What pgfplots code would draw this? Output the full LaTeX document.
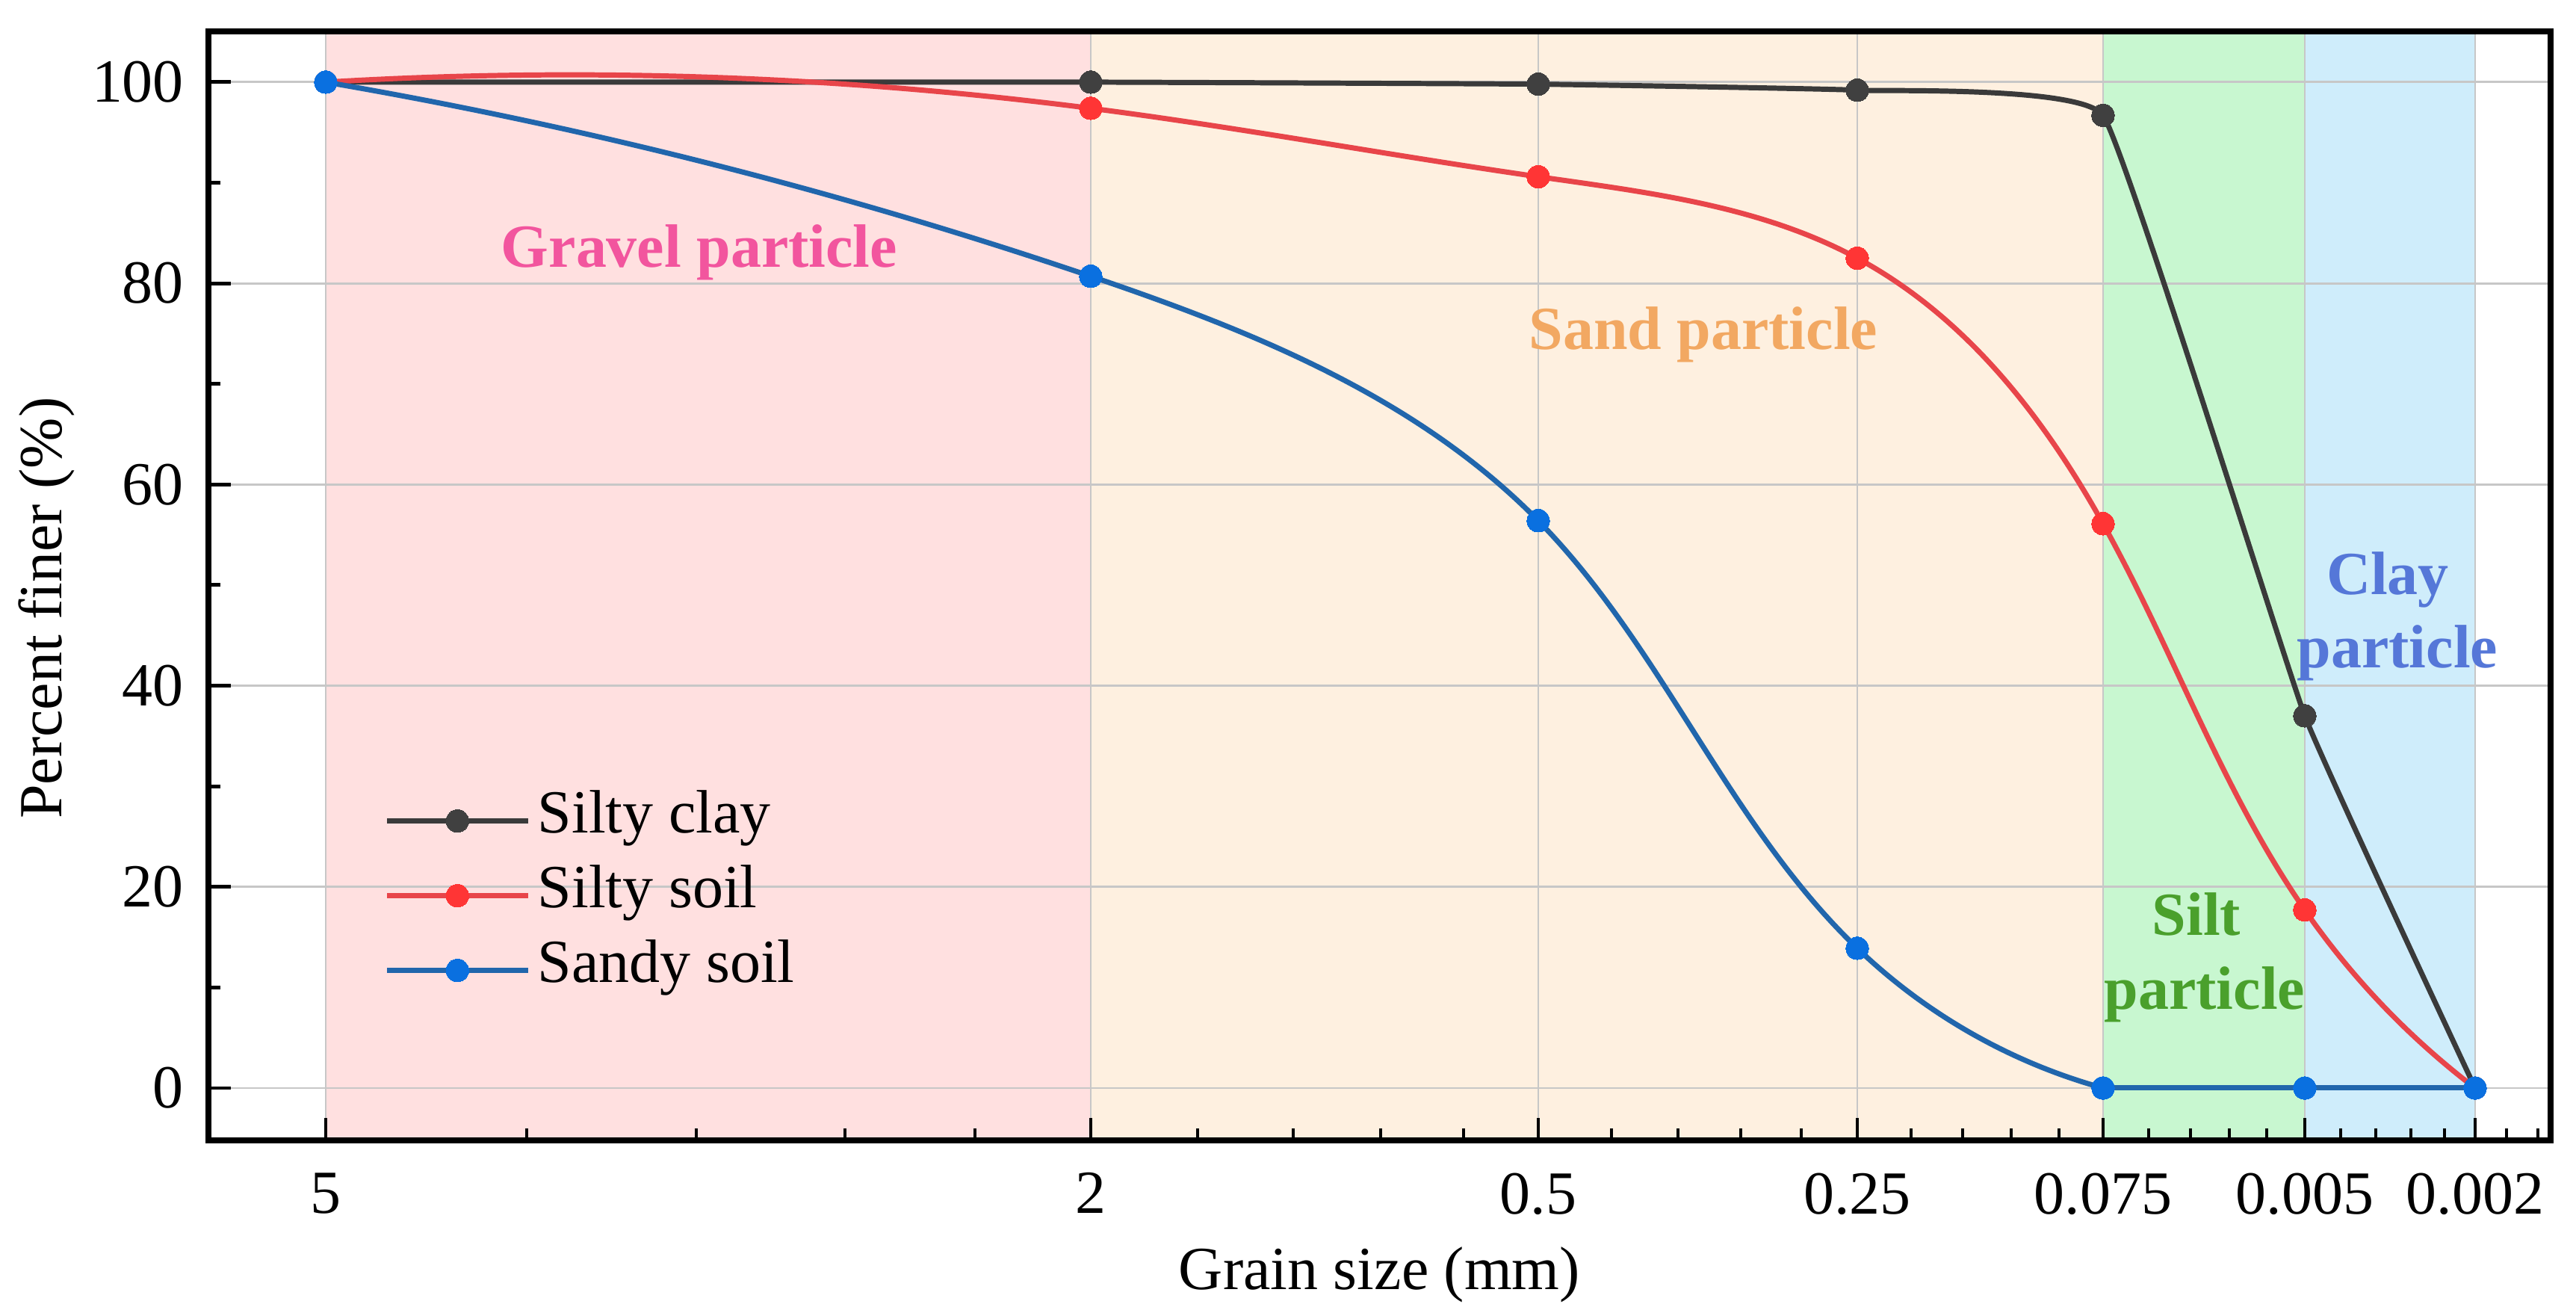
\documentclass[border=0pt]{standalone}
\usepackage{fontspec}
\setmainfont{Liberation Serif}
\usepackage{pgfplots}
\pgfplotsset{compat=1.18}
\usetikzlibrary{hobby}
\definecolor{cClay}{HTML}{3A3A3A}
\definecolor{cClayM}{HTML}{404040}
\definecolor{cSoil}{HTML}{E8454A}
\definecolor{cSoilM}{HTML}{FF3535}
\definecolor{cSand}{HTML}{2166AC}
\definecolor{cSandM}{HTML}{0A70E0}
\definecolor{bGravel}{HTML}{FFE0E0}
\definecolor{bSand}{HTML}{FEF0E0}
\definecolor{bSilt}{HTML}{C8F7D0}
\definecolor{bClay}{HTML}{CFEDFB}
\definecolor{tGravel}{HTML}{F2559E}
\definecolor{tSand}{HTML}{F2A862}
\definecolor{tSilt}{HTML}{4AA02C}
\definecolor{tClay}{HTML}{5577D8}
\begin{document}
\begin{tikzpicture}
\begin{axis}[
  set layers,
  scale only axis, width=382.47pt, height=181.05pt,
  at={(0,0)}, anchor=south west,
  xmin=279, xmax=3414, ymin=-5.2, ymax=105.05,
  xtick={436,1460,2059,2486,2815,3085,3313},
  xticklabels={5,2,0.5,0.25,0.075,0.005,0.002},
  minor xtick={705,932,1131,1305,1603,1731,1848,1959,2157,2246,2330,2411,2558,2627,2692,2756,2876,2932,2984,3034,3133,3180,3227,3272,3355,3397},
  ytick={0,20,40,60,80,100},
  minor ytick={10,30,50,70,90},
  tick align=inside, tick pos=left,
  major tick length=3.7pt, minor tick length=2pt,
  every tick/.style={black, line width=0.6pt},
  axis line style={line width=0.9pt},
  xmajorgrids, ymajorgrids,
  major grid style={black!22, line width=0.35pt},
  font=\fontsize{10}{12}\selectfont,
  /pgf/number format/assume math mode=true,
  xticklabel style={yshift=-1.8pt},
  yticklabel style={xshift=-0.5pt},
  xlabel={Grain size (mm)},
  ylabel={Percent finer (\%)},
  xlabel style={at={(axis description cs:0.5,0)}, anchor=base, yshift=-24.3pt},
  ylabel style={at={(axis description cs:-0.0628,0.48)}, anchor=base},
  legend style={at={(0.0746,0.3228)}, anchor=north west, draw=none, fill=none,
    inner sep=0pt, row sep=0pt,
    nodes={inner xsep=1.2pt, inner ysep=0pt, text height=8pt, text depth=4.2pt},
    font=\fontsize{10}{12}\selectfont},
  legend cell align=left,
  legend image code/.code={\draw[mark repeat=2, mark phase=2, #1] plot coordinates {(0pt,0pt) (11.5pt,0pt) (23pt,0pt)};},
]
% background bands
\addplot[draw=none, fill=bGravel, on layer=axis background, forget plot] coordinates {(436,-5.2) (1460,-5.2) (1460,105.05) (436,105.05)};
\addplot[draw=none, fill=bSand, on layer=axis background, forget plot] coordinates {(1460,-5.2) (2815,-5.2) (2815,105.05) (1460,105.05)};
\addplot[draw=none, fill=bSilt, on layer=axis background, forget plot] coordinates {(2815,-5.2) (3085,-5.2) (3085,105.05) (2815,105.05)};
\addplot[draw=none, fill=bClay, on layer=axis background, forget plot] coordinates {(3085,-5.2) (3313,-5.2) (3313,105.05) (3085,105.05)};

% Silty clay
\addplot[smooth, tension=0.17, color=cClay, line width=0.85pt, mark=*, mark size=1.85pt,
  mark options={fill=cClayM, draw=cClayM, line width=0pt}]
  coordinates {(436,100) (1460,100) (2059,99.8) (2486,99.2) (2815,96.7) (3085,37.0) (3313,0)};
\addlegendentry{Silty clay}
% Silty soil
\addplot[hobby, color=cSoil, line width=0.85pt, mark=*, mark size=1.85pt,
  mark options={fill=cSoilM, draw=cSoilM, line width=0pt}]
  coordinates {(436,100) (1460,97.4) (2059,90.6) (2486,82.5) (2815,56.1) (3085,17.7) (3313,0)};
\addlegendentry{Silty soil}
% Sandy soil
\addplot[hobby, color=cSand, line width=0.85pt, mark=*, mark size=1.85pt,
  mark options={fill=cSandM, draw=cSandM, line width=0pt}]
  coordinates {(436,100) (1460,80.7) (2059,56.4) (2486,13.9) (2815,0)};
\addlegendentry{Sandy soil}
\addplot[color=cSand, line width=0.85pt, mark=*, mark size=1.85pt,
  mark options={fill=cSandM, draw=cSandM, line width=0pt}, forget plot]
  coordinates {(2815,0) (3085,0) (3313,0)};

% region labels
\node[font=\fontsize{10}{12}\selectfont\bfseries, text=tGravel, anchor=base] at (axis cs:936,81.6) {Gravel particle};
\node[font=\fontsize{10}{12}\selectfont\bfseries, text=tSand, anchor=base] at (axis cs:2280,73.4) {Sand particle};
\node[font=\fontsize{10}{12}\selectfont\bfseries, text=tSilt, anchor=base] at (axis cs:2940,15.2) {Silt};
\node[font=\fontsize{10}{12}\selectfont\bfseries, text=tSilt, anchor=base] at (axis cs:2951,7.8) {particle};
\node[font=\fontsize{10}{12}\selectfont\bfseries, text=tClay, anchor=base] at (axis cs:3196,49.1) {Clay};
\node[font=\fontsize{10}{12}\selectfont\bfseries, text=tClay, anchor=base] at (axis cs:3209,41.8) {particle};
\end{axis}
\pgfresetboundingbox
\useasboundingbox (-34.04pt,-28.18pt) rectangle (386.62pt,186.17pt);
\end{tikzpicture}
\end{document}
